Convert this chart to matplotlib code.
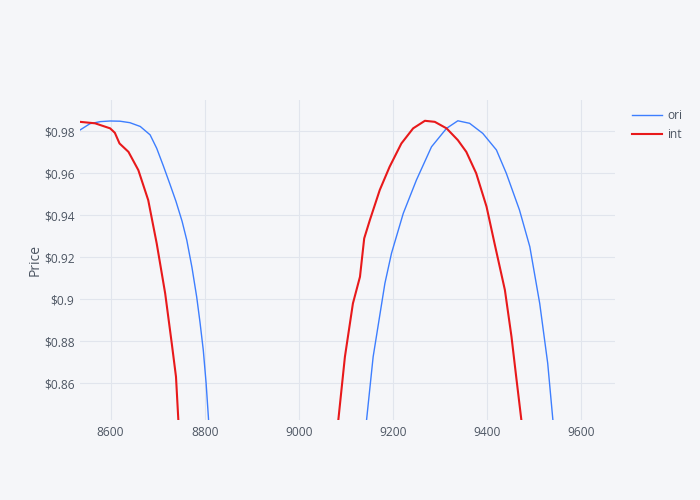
import numpy as np
import matplotlib
matplotlib.use("Agg")
import matplotlib.pyplot as plt
from matplotlib.ticker import FuncFormatter, MultipleLocator

# ori series
ori_x = [8535, 8556, 8578, 8599, 8620, 8641, 8663, 8684, 8698, 8712, 8726, 8739, 8752,
         8762, 8773, 8783, 8790, 8797, 8803, 8808, 8825,
         9125, 9144, 9158, 9183, 9197, 9222, 9250, 9282, 9314, 9338, 9363, 9391,
         9420, 9441, 9469, 9491, 9512, 9529, 9540, 9555]
ori_y = [0.9805, 0.9835, 0.9845, 0.9848, 0.9847, 0.9840, 0.9822, 0.9782, 0.9718, 0.9635, 0.9548, 0.9465, 0.9370,
         0.9280, 0.9150, 0.9010, 0.8890, 0.8757, 0.8600, 0.8433, 0.780,
         0.780, 0.8424, 0.8725, 0.9075, 0.9218, 0.9408, 0.9567, 0.9725, 0.9813, 0.9849, 0.9837, 0.9789,
         0.9710, 0.9599, 0.9424, 0.9249, 0.8979, 0.8694, 0.8424, 0.780]

# int series
int_x = [8535, 8567, 8599, 8609, 8619, 8638, 8659, 8680, 8698, 8716, 8730, 8739, 8744, 8748,
         9075, 9084, 9098, 9115, 9130, 9139, 9151, 9172, 9193, 9218, 9243, 9268, 9289, 9314,
         9338, 9356, 9377, 9399, 9416, 9438, 9452, 9462, 9473, 9485]
int_y = [0.9844, 0.9837, 0.9813, 0.9792, 0.9741, 0.9701, 0.9614, 0.9471, 0.9265, 0.9027, 0.8789, 0.8630, 0.8424, 0.780,
         0.780, 0.8424, 0.8725, 0.8979, 0.9106, 0.9289, 0.9376, 0.9519, 0.9630, 0.9741, 0.9813, 0.9849, 0.9844, 0.9813,
         0.9757, 0.9701, 0.9599, 0.9440, 0.9265, 0.9043, 0.8821, 0.8630, 0.8424, 0.780]

bg = "#F5F6F9"
grid = "#E1E5ED"
txt = "#4D5663"

plt.rcParams['font.family'] = ['Open Sans', 'DejaVu Sans']
fs = 8.64  # 12px

fig = plt.figure(figsize=(7, 5), dpi=100, facecolor=bg)
ax = fig.add_axes([80/700, 80/500, 535/700, 320/500], facecolor=bg)

ax.plot(ori_x, ori_y, color="#3D7EFF", lw=1.0, label="ori")
ax.plot(int_x, int_y, color="#E8191B", lw=1.5, label="int")

ax.set_xlim(8535, 9672)
ax.set_ylim(0.8424, 0.9948)
ax.xaxis.set_major_locator(MultipleLocator(200))
ax.yaxis.set_major_locator(MultipleLocator(0.02))
ax.yaxis.set_major_formatter(FuncFormatter(lambda v, p: "${:g}".format(round(v, 4))))
ax.grid(True, color=grid, lw=0.8)
ax.set_axisbelow(True)
for s in ax.spines.values():
    s.set_visible(False)
ax.tick_params(length=0, labelsize=fs, labelcolor=txt, pad=4)
ax.set_ylabel("Price", fontsize=10, color=txt, labelpad=1)

ax.legend(loc="upper left", bbox_to_anchor=(632/700, 1 - 109/500), bbox_transform=fig.transFigure,
          frameon=False, fontsize=fs, handlelength=2.5, handletextpad=0.45,
          labelspacing=0.5, borderpad=0, borderaxespad=0, labelcolor=txt)

fig.savefig("out.png", dpi=100, facecolor=bg)
